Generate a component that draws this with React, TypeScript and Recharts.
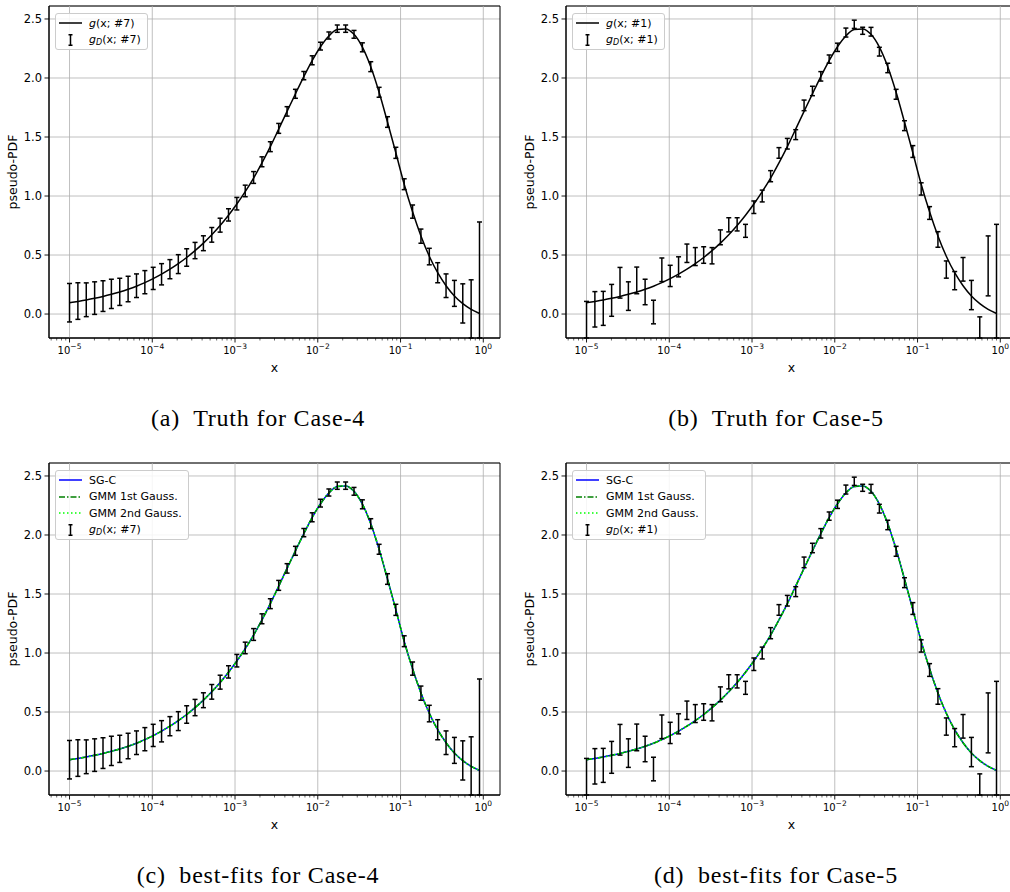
import React from 'react';
import {
  ComposedChart,
  Line,
  Scatter,
  ErrorBar,
  XAxis,
  YAxis,
  CartesianGrid,
  ReferenceLine,
  ReferenceArea,
} from 'recharts';

// 50 log-spaced sample points, 1e-5 ... 0.9
const xValues = [
  1.0e-5, 1.262e-5, 1.593e-5, 2.011e-5, 2.539e-5, 3.205e-5, 4.045e-5, 5.106e-5, 6.445e-5, 8.135e-5,
  1.026e-4, 1.295e-4, 1.634e-4, 2.063e-4, 2.604e-4, 3.287e-4, 4.148e-4, 5.236e-4, 6.609e-4, 8.342e-4,
  1.052e-3, 1.328e-3, 1.677e-3, 2.116e-3, 2.671e-3, 3.371e-3, 4.255e-3, 5.371e-3, 6.78e-3, 8.555e-3,
  1.079e-2, 1.362e-2, 1.72e-2, 2.171e-2, 2.74e-2, 3.458e-2, 4.365e-2, 5.51e-2, 6.953e-2, 8.776e-2,
  0.1107, 0.1398, 0.1764, 0.2227, 0.2811, 0.3548, 0.4478, 0.565, 0.7133, 0.9,
];

// truth curve g(x), also matched by the best fits
const truthCurve = [
  0.096, 0.107, 0.119, 0.133, 0.149, 0.167, 0.187, 0.21, 0.236, 0.266,
  0.3, 0.338, 0.38, 0.427, 0.479, 0.537, 0.601, 0.672, 0.75, 0.837,
  0.932, 1.037, 1.152, 1.28, 1.418, 1.567, 1.717, 1.866, 2.012, 2.148,
  2.265, 2.356, 2.41, 2.416, 2.37, 2.262, 2.096, 1.879, 1.627, 1.366,
  1.1, 0.866, 0.662, 0.49, 0.35, 0.24, 0.153, 0.088, 0.04, 0.005,
];

// fits for panels (c) and (d) overlay the truth curve
const sgcFit = truthCurve;
const gmmFirst = truthCurve;
const gmmSecond = truthCurve;

const case4Data = [
  0.096, 0.11, 0.121, 0.135, 0.152, 0.171, 0.188, 0.212, 0.24, 0.27,
  0.302, 0.337, 0.38, 0.423, 0.479, 0.538, 0.6, 0.671, 0.753, 0.84,
  0.935, 1.043, 1.157, 1.29, 1.418, 1.573, 1.717, 1.866, 2.02, 2.15,
  2.27, 2.36, 2.418, 2.418, 2.37, 2.26, 2.096, 1.879, 1.627, 1.366,
  1.1, 0.868, 0.66, 0.487, 0.35, 0.24, 0.175, 0.09, 0.04, 0.0,
];
const case4Err = [
  0.163, 0.155, 0.143, 0.138, 0.13, 0.124, 0.115, 0.108, 0.1, 0.098,
  0.094, 0.09, 0.081, 0.08, 0.074, 0.069, 0.063, 0.062, 0.059, 0.052,
  0.053, 0.049, 0.05, 0.042, 0.042, 0.042, 0.04, 0.038, 0.035, 0.038,
  0.033, 0.03, 0.031, 0.031, 0.033, 0.038, 0.042, 0.042, 0.045, 0.047,
  0.046, 0.056, 0.06, 0.07, 0.085, 0.1, 0.11, 0.166, 0.25, 0.78,
];

const case5Data = [
  -0.056, 0.04, 0.048, 0.116, 0.265, 0.152, 0.285, 0.187, 0.017, 0.375,
  0.323, 0.4, 0.515, 0.487, 0.5, 0.494, 0.65, 0.756, 0.76, 0.705,
  0.905, 1.0, 1.168, 1.365, 1.443, 1.52, 1.768, 1.89, 2.014, 2.16,
  2.26, 2.385, 2.455, 2.4, 2.392, 2.223, 2.085, 1.862, 1.596, 1.377,
  1.06, 0.856, 0.632, 0.377, 0.283, 0.379, 0.161, -0.19, 0.408, 0.0,
];
const case5Err = [
  0.163, 0.15, 0.144, 0.135, 0.13, 0.121, 0.113, 0.108, 0.1, 0.1,
  0.09, 0.085, 0.078, 0.076, 0.07, 0.069, 0.063, 0.06, 0.056, 0.055,
  0.053, 0.05, 0.047, 0.045, 0.045, 0.042, 0.045, 0.04, 0.04, 0.035,
  0.035, 0.038, 0.035, 0.03, 0.037, 0.037, 0.04, 0.042, 0.042, 0.05,
  0.052, 0.054, 0.066, 0.073, 0.077, 0.1, 0.124, 0.166, 0.254, 0.76,
];

const yTicks = [0, 0.5, 1, 1.5, 2, 2.5];
const xMajorTicks = [1e-5, 1e-4, 1e-3, 1e-2, 1e-1, 1];
const xMajorExponents = ['\u22125', '\u22124', '\u22123', '\u22122', '\u22121', '0'];
const minorDecades = [1e-6, 1e-5, 1e-4, 1e-3, 1e-2, 1e-1];
const minorSteps = [2, 3, 4, 5, 6, 7, 8, 9];

const X_MIN = 5.65e-6;
const X_MAX = 1.592;
const Y_MIN = -0.203;
const Y_MAX = 2.61;

const xMinorTicks = minorDecades
  .flatMap((d) => minorSteps.map((m) => d * m))
  .filter((v) => v > X_MIN && v < X_MAX);
const xAllTicks = [...xMajorTicks, ...xMinorTicks].sort((a, b) => a - b);

const Y_AXIS_W = 72;
const TOP = 10;
const PLOT_W = 451;
const PLOT_H = 332;
const X_AXIS_H = 50;
const RIGHT = 10;

const GRID = '#b0b0b0';

type Series = { key: string; color: string; dash?: string };
type LegendItem = { kind: 'line' | 'err'; color?: string; dash?: string; label: React.ReactNode };

const XTick = (props: any) => {
  const { x, y, payload } = props;
  const idx = xMajorTicks.indexOf(payload.value);
  const major = idx >= 0;
  return (
    <g>
      <line x1={x} x2={x} y1={y} y2={y + (major ? 4.5 : 2.5)} stroke="#000" strokeWidth={major ? 0.9 : 0.6} />
      {major && (
        <text x={x} y={y + 16} textAnchor="middle" fontSize={10} fill="#000">
          10
          <tspan dy={-5} fontSize={7.5}>
            {xMajorExponents[idx]}
          </tspan>
        </text>
      )}
    </g>
  );
};

const emptyShape = () => <g />;

const LegendBox = ({ left, top, items }: { left: number; top: number; items: LegendItem[] }) => (
  <div
    style={{
      position: 'absolute',
      left,
      top,
      border: '1px solid #cccccc',
      borderRadius: 3,
      background: 'rgba(255,255,255,0.85)',
      padding: '1px 6px 1px 3px',
      fontSize: 11,
      color: '#000',
      fontFamily: '"DejaVu Sans", sans-serif',
    }}
  >
    {items.map((it, i) => (
      <div key={i} style={{ display: 'flex', alignItems: 'center', height: 16.5, whiteSpace: 'nowrap' }}>
        <svg width={23} height={12} style={{ marginRight: 7, flex: 'none' }}>
          {it.kind === 'line' ? (
            <line x1={0} x2={23} y1={6} y2={6} stroke={it.color} strokeWidth={1.5} strokeDasharray={it.dash} />
          ) : (
            <g stroke="#000" strokeWidth={1.5}>
              <line x1={11.5} x2={11.5} y1={0.5} y2={11.5} />
              <line x1={9.5} x2={13.5} y1={0.75} y2={0.75} />
              <line x1={9.5} x2={13.5} y1={11.25} y2={11.25} />
            </g>
          )}
        </svg>
        <span>{it.label}</span>
      </div>
    ))}
  </div>
);

const gLabel = (id: string) => (
  <>
    <i>g</i>(x; #{id})
  </>
);
const gdLabel = (id: string) => (
  <>
    <i>g</i>
    <sub style={{ fontSize: 8, fontStyle: 'italic', verticalAlign: '-2px' }}>D</sub>(x; #{id})
  </>
);

function Panel({
  plotLeft,
  plotTop,
  rows,
  series,
  legendItems,
}: {
  plotLeft: number;
  plotTop: number;
  rows: any[];
  series: Series[];
  legendItems: LegendItem[];
}) {
  return (
    <>
      <div style={{ position: 'absolute', left: plotLeft - Y_AXIS_W, top: plotTop - TOP }}>
        <ComposedChart
          width={Y_AXIS_W + PLOT_W + RIGHT}
          height={TOP + PLOT_H + X_AXIS_H}
          data={rows}
          margin={{ top: TOP, right: RIGHT, bottom: 0, left: 0 }}
        >
          <CartesianGrid vertical={false} stroke={GRID} strokeWidth={0.8} />
          {xMajorTicks.map((v) => (
            <ReferenceLine key={v} x={v} stroke={GRID} strokeWidth={0.8} />
          ))}
          <XAxis
            dataKey="x"
            type="number"
            scale="log"
            domain={[X_MIN, X_MAX]}
            allowDataOverflow
            ticks={xAllTicks}
            interval={0}
            tick={<XTick />}
            tickLine={false}
            tickSize={0}
            tickMargin={0}
            height={X_AXIS_H}
            axisLine={{ stroke: '#000', strokeWidth: 1 }}
            label={{ value: 'x', position: 'insideBottom', offset: 16, fill: '#000', fontSize: 12.5 }}
          />
          <YAxis
            type="number"
            domain={[Y_MIN, Y_MAX]}
            allowDataOverflow
            ticks={yTicks}
            interval={0}
            width={Y_AXIS_W}
            tickFormatter={(v: number) => v.toFixed(1)}
            tick={{ fill: '#000', fontSize: 11.5 }}
            tickSize={4.5}
            tickMargin={2.5}
            tickLine={{ stroke: '#000', strokeWidth: 0.9 }}
            axisLine={{ stroke: '#000', strokeWidth: 1 }}
            label={{ value: 'pseudo-PDF', angle: -90, position: 'center', fill: '#000', fontSize: 12.5 }}
          />
          {series.map((s) => (
            <Line
              key={s.key}
              dataKey={s.key}
              type="monotone"
              stroke={s.color}
              strokeWidth={1.5}
              strokeDasharray={s.dash}
              dot={false}
              activeDot={false}
              isAnimationActive={false}
            />
          ))}
          <Scatter data={rows} dataKey="y" shape={emptyShape} isAnimationActive={false} legendType="none">
            <ErrorBar dataKey="errClip" direction="y" width={2.5} stroke="#000" strokeWidth={1.5} isAnimationActive={false} />
          </Scatter>
          <ReferenceArea x1={X_MIN} x2={X_MAX} y1={Y_MIN} y2={Y_MAX} fill="none" stroke="#000" strokeWidth={1} />
        </ComposedChart>
      </div>
      <LegendBox left={plotLeft + 6} top={plotTop + 7} items={legendItems} />
    </>
  );
}

// error bars are cut at the lower edge of the axes, as in the figure
const buildRows = (data: number[], err: number[]) =>
  xValues.map((x, i) => ({
    x,
    g: truthCurve[i],
    sgc: sgcFit[i],
    gmm1: gmmFirst[i],
    gmm2: gmmSecond[i],
    y: data[i],
    errClip: [Math.min(err[i], data[i] - Y_MIN), err[i]],
  }));

const truthSeries: Series[] = [{ key: 'g', color: '#000' }];
const fitSeries: Series[] = [
  { key: 'sgc', color: '#0000ff' },
  { key: 'gmm1', color: '#008000', dash: '6 2 1.5 2' },
  { key: 'gmm2', color: '#00ff00', dash: '1.5 2.5' },
];

const truthLegend = (id: string): LegendItem[] => [
  { kind: 'line', color: '#000', label: gLabel(id) },
  { kind: 'err', label: gdLabel(id) },
];
const fitLegend = (id: string): LegendItem[] => [
  { kind: 'line', color: '#0000ff', label: 'SG-C' },
  { kind: 'line', color: '#008000', dash: '6 2 1.5 2', label: 'GMM 1st Gauss.' },
  { kind: 'line', color: '#00ff00', dash: '1.5 2.5', label: 'GMM 2nd Gauss.' },
  { kind: 'err', label: gdLabel(id) },
];

const Caption = ({ cx, top, text }: { cx: number; top: number; text: string }) => (
  <div
    style={{
      position: 'absolute',
      left: cx - 200,
      width: 400,
      top,
      textAlign: 'center',
      fontFamily: '"Liberation Serif", serif',
      fontSize: 24,
      lineHeight: '24px',
      letterSpacing: 0.8,
      color: '#000',
      whiteSpace: 'pre',
    }}
  >
    {text}
  </div>
);

export default function App() {
  const rows4 = buildRows(case4Data, case4Err);
  const rows5 = buildRows(case5Data, case5Err);
  return (
    <div
      style={{
        position: 'absolute',
        left: 0,
        top: 0,
        width: 1010,
        height: 892,
        overflow: 'hidden',
        background: '#fff',
        fontFamily: '"DejaVu Sans", sans-serif',
      }}
    >
      <Panel plotLeft={49} plotTop={6} rows={rows4} series={truthSeries} legendItems={truthLegend('7')} />
      <Panel plotLeft={566} plotTop={6} rows={rows5} series={truthSeries} legendItems={truthLegend('1')} />
      <Panel plotLeft={49} plotTop={463} rows={rows4} series={fitSeries} legendItems={fitLegend('7')} />
      <Panel plotLeft={566} plotTop={463} rows={rows5} series={fitSeries} legendItems={fitLegend('1')} />
      <Caption cx={258} top={406} text={'(a)  Truth for Case-4'} />
      <Caption cx={776} top={406} text={'(b)  Truth for Case-5'} />
      <Caption cx={258} top={863} text={'(c)  best-fits for Case-4'} />
      <Caption cx={776} top={863} text={'(d)  best-fits for Case-5'} />
    </div>
  );
}
